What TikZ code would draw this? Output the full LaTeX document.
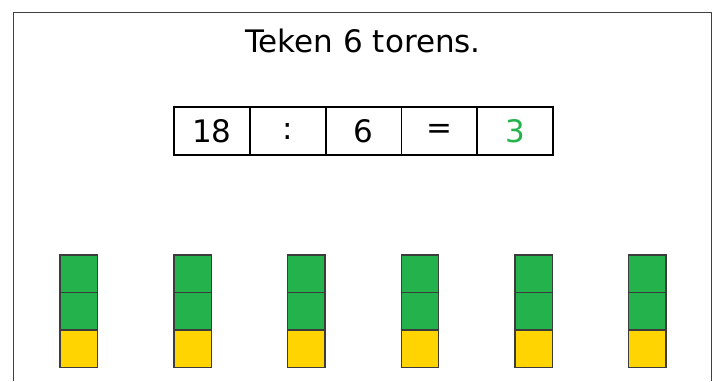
\documentclass[tikz,border=0pt]{standalone}
\usepackage{fontspec}
\setmainfont{DejaVu Sans}
\usepackage{xcolor}
\usetikzlibrary{positioning}

\definecolor{torengroen}{HTML}{24B24C}
\definecolor{torengeel}{HTML}{FFD400}
\definecolor{randgrijs}{HTML}{3C3C3C}

\begin{document}
\begin{tikzpicture}[
      x=1pt, y=1pt,
      node distance=0pt and 76.2pt,
      vak/.style={draw,line width=1.8pt,outer sep=0pt,minimum width=75.8pt,
                  minimum height=48pt,inner sep=0pt,font=\fontsize{31}{34}\selectfont},
      blok/.style={draw=randgrijs,line width=1.4pt,outer sep=0pt,
                   minimum size=37.5pt,inner sep=0pt},
      groen/.style={blok,fill=torengroen},
      geel/.style={blok,fill=torengeel}
      ]
      \useasboundingbox (0,0) rectangle (718,381);

      % kader
      \coordinate (kl) at (13.5,0);
      \coordinate (kr) at (711.5,0);
      \draw[line width=1.2pt,black!75] (kl) |- (711.5,368.5) -- (kr);

      \node[font=\fontsize{31}{34}\selectfont] (titel) at (363,340.5) {Teken 6 torens.};

      % som
      \node[vak] (a) at (212,250) {18};
      \node[vak, right=0pt of a] (b) {:};
      \node[vak, right=0pt of b] (c) {6};
      \node[vak, right=0pt of c] (d) {=};
      \node[vak, right=0pt of d, text=torengroen] (e) {3};

      % torens
      \node[geel] (y1) at (78.9,32.25) {};
      \node[groen, above=of y1] (g1) {};
      \node[groen, above=of g1] (h1) {};

      \node[geel, right=of y1] (y2) {};
      \node[groen, above=of y2] (g2) {};
      \node[groen, above=of g2] (h2) {};

      \node[geel, right=of y2] (y3) {};
      \node[groen, above=of y3] (g3) {};
      \node[groen, above=of g3] (h3) {};

      \node[geel, right=of y3] (y4) {};
      \node[groen, above=of y4] (g4) {};
      \node[groen, above=of g4] (h4) {};

      \node[geel, right=of y4] (y5) {};
      \node[groen, above=of y5] (g5) {};
      \node[groen, above=of g5] (h5) {};

      \node[geel, right=of y5] (y6) {};
      \node[groen, above=of y6] (g6) {};
      \node[groen, above=of g6] (h6) {};

    \end{tikzpicture}
\end{document}
